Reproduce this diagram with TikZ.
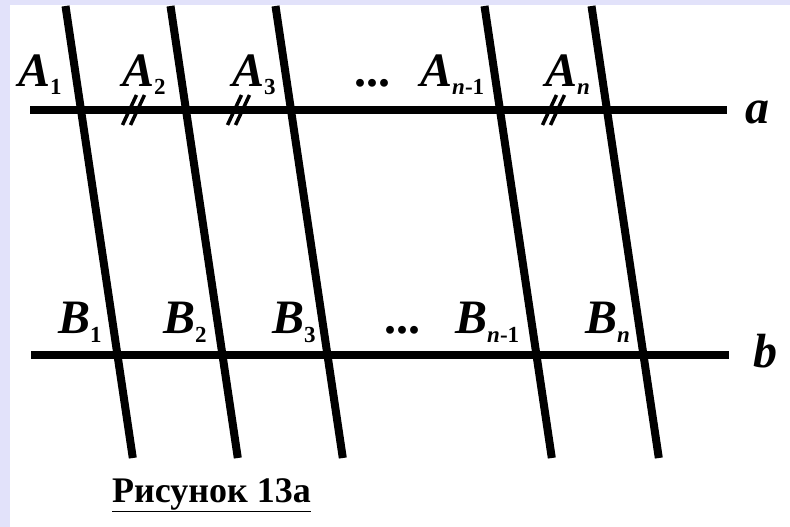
\documentclass[tikz,border=0pt]{standalone}
\usepackage{fontspec}
\setmainfont{Liberation Serif}
\usetikzlibrary{calc}
\definecolor{bglav}{RGB}{226,226,250}
\tikzset{
  ln/.style={line width=8pt,black},
  tk/.style={line width=3.5pt,black},
  lb/.style={anchor=base west,inner sep=0pt,font=\fontsize{48}{48}\selectfont\bfseries\itshape},
  dt/.style={anchor=base west,inner sep=0pt,font=\fontsize{48}{48}\selectfont\bfseries},
}
\newcommand\sub[1]{\raisebox{-9pt}{\fontsize{23}{23}\selectfont\bfseries #1}}

\begin{document}
\begin{tikzpicture}[x=1pt,y=-1pt]
\useasboundingbox (0,0) rectangle (790,527);
\fill[bglav] (0,0) rectangle (790,527);
\fill[white] (10,5) rectangle (790,527);
\coordinate (aL) at (30,110);\coordinate (aR) at (727,110);
\coordinate (bL) at (31,355);\coordinate (bR) at (729,355);
\draw[ln](aL)--(aR);\draw[ln](bL)--(bR);
\foreach \i/\xa in {1/81,2/186,3/291,4/500,5/607}{
  \coordinate (a\i) at (\xa,110);
  \coordinate (b\i) at (\xa+36.5,355);
  \coordinate (t\i) at (\xa-15.5,6);
  \coordinate (u\i) at (\xa+51.8,458);
  \draw[ln](t\i)--(u\i);
}
% equal segments on a
\foreach \p/\q in {1/2,2/3,4/5}{
  \coordinate (m\p) at ($(a\p)!0.5!(a\q)$);
  \draw[tk]($(m\p)+(-11,15)$)--($(m\p)+(3,-15)$);
  \draw[tk]($(m\p)+(-3,15)$)--($(m\p)+(11,-15)$);
}
\node[lb] (la1) at (18,86) {A\sub{\upshape 1}};
\node[lb] (la2) at (122,86) {A\sub{\upshape 2}};
\node[lb] (la3) at (232,86) {A\sub{\upshape 3}};
\node[dt] (da) at (354,86) {...};
\node[lb] (la4) at (420,86) {A\sub{n\upshape -1}};
\node[lb] (la5) at (545,86) {A\sub{n}};
\node[lb] (na) at (745,123) {a};
\node[lb] (lb1) at (58,333) {B\sub{\upshape 1}};
\node[lb] (lb2) at (163,333) {B\sub{\upshape 2}};
\node[lb] (lb3) at (272,333) {B\sub{\upshape 3}};
\node[dt] (db) at (384,333) {...};
\node[lb] (lb4) at (455,333) {B\sub{n\upshape -1}};
\node[lb] (lb5) at (585,333) {B\sub{n}};
\node[lb] (nb) at (753,367) {b};
\node[anchor=base west,inner sep=0pt,font=\fontsize{36}{36}\selectfont\bfseries] (cap) at (112,502) {\underline{Рисунок 13а}};
\end{tikzpicture}
\end{document}
